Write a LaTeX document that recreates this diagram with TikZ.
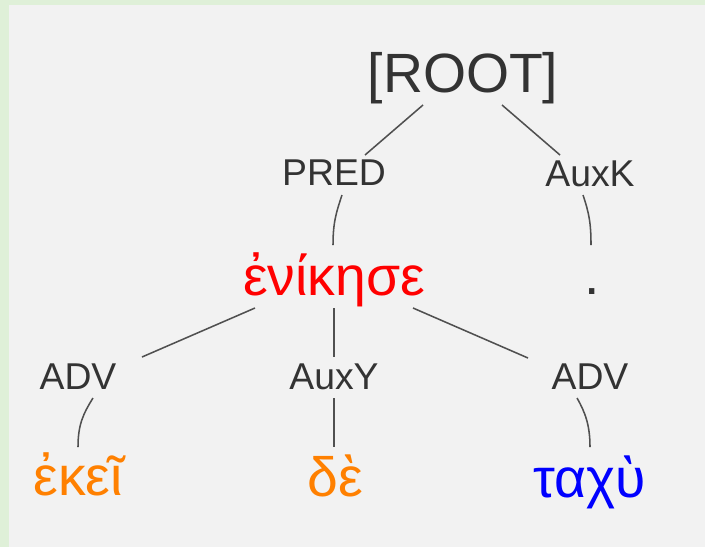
\documentclass[tikz,border=0pt]{standalone}
\usepackage{fontspec}
\setmainfont{Liberation Sans}
\usetikzlibrary{calc}
\definecolor{bggreen}{RGB}{223,240,216}
\definecolor{bggray}{RGB}{242,242,242}
\definecolor{txt}{RGB}{51,51,51}
\definecolor{edge}{RGB}{80,80,80}
\definecolor{wred}{RGB}{255,0,0}
\definecolor{worange}{RGB}{255,128,0}
\definecolor{wblue}{RGB}{0,0,255}
\tikzset{
  big/.style={anchor=base, inner sep=0pt, font=\fontsize{41.5}{49}\selectfont},
  lbl/.style={anchor=base, inner sep=0pt, text=txt, font=\fontsize{28}{34}\selectfont},
  edgeline/.style={draw=edge, line width=1.15pt}
}
\begin{document}
\begin{tikzpicture}[x=0.75pt,y=-0.75pt]
\useasboundingbox (0,0) rectangle (705,547);
\fill[bggreen] (0,0) rectangle (705,547);
\fill[bggray] (9,5) rectangle (705,547);
% nodes
\node[big, text=txt] (root) at (463,92) {[ROOT]};
\node[lbl] (pred) at (334,185) {PRED};
\node[lbl] (auxk) at (590,186) {AuxK};
\node[big, text=wred] (verb) at (334,295) {ἐνίκησε};
\node[big, text=txt] (dot) at (592,294) {.};
\node[lbl] (advl) at (78,389) {ADV};
\node[lbl] (auxy) at (334,389) {AuxY};
\node[lbl] (advr) at (590,389) {ADV};
\node[big, text=worange] (ekei) at (78,495) {ἐκεῖ};
\node[big, text=worange] (de) at (335,496) {δὲ};
\node[big, text=wblue] (taxu) at (590,497) {ταχὺ};
% edges
\draw[edgeline] ($(root.base)+(-40,13)$) -- ($(pred.base)+(31,-30)$);
\draw[edgeline] ($(root.base)+(39,13)$) -- ($(auxk.base)+(-30,-31)$);
\draw[edgeline] ($(pred.base)+(8,10)$) .. controls +(-6,18) and +(0,-22) .. ($(verb.base)+(-1,-50)$);
\draw[edgeline] ($(auxk.base)+(-7,9)$) .. controls +(6,18) and +(0,-22) .. ($(dot.base)+(-1,-49)$);
\draw[edgeline] ($(verb.base)+(-79,13)$) -- ($(advl.base)+(64,-32)$);
\draw[edgeline] ($(verb.base)+(0,13)$) -- ($(auxy.base)+(0,-32)$);
\draw[edgeline] ($(verb.base)+(79,13)$) -- ($(advr.base)+(-62,-31)$);
\draw[edgeline] ($(advl.base)+(15,9)$) .. controls +(-10,16) and +(0,-22) .. ($(ekei.base)+(0,-48)$);
\draw[edgeline] ($(auxy.base)+(0,9)$) -- ($(de.base)+(-1,-49)$);
\draw[edgeline] ($(advr.base)+(-13,9)$) .. controls +(8,14) and +(0,-22) .. ($(taxu.base)+(0,-50)$);
\end{tikzpicture}
\end{document}
